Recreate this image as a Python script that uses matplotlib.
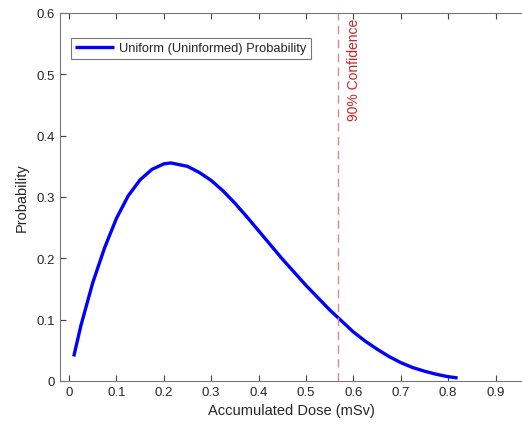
import matplotlib
matplotlib.use("Agg")
import matplotlib.pyplot as plt

dose = [0.01, 0.025, 0.05, 0.075, 0.1, 0.125, 0.15, 0.175, 0.2, 0.215, 0.25, 0.275,
        0.3, 0.325, 0.35, 0.375, 0.4, 0.45, 0.5, 0.55, 0.6, 0.625, 0.65, 0.675,
        0.7, 0.725, 0.75, 0.775, 0.8, 0.82]
prob = [0.040, 0.090, 0.160, 0.217, 0.265, 0.302, 0.328, 0.345, 0.354, 0.3555, 0.350, 0.340,
        0.327, 0.310, 0.290, 0.268, 0.245, 0.199, 0.156, 0.116, 0.080, 0.065, 0.052, 0.040,
        0.030, 0.022, 0.016, 0.011, 0.007, 0.005]
conf_x = 0.567
xticks = [0, 0.1, 0.2, 0.3, 0.4, 0.5, 0.6, 0.7, 0.8, 0.9]
yticks = [0, 0.1, 0.2, 0.3, 0.4, 0.5, 0.6]

plt.rcParams['font.family'] = ['Liberation Sans', 'DejaVu Sans']
fig = plt.figure(figsize=(5.22, 4.35), dpi=100)
ax = fig.add_axes([60/522, 1 - 382/435, 1 - 60/522 + 0.001, (382 - 14)/435])

ax.plot(dose, prob, color='#0000ff', lw=2.4, label='Uniform (Uninformed) Probability',
        solid_capstyle='butt', solid_joinstyle='round')
ax.axvline(conf_x, color='#e08888', lw=1.0, ls=(0, (6, 4)))
ax.text(0.601, 0.593, '90% Confidence', rotation=90, ha='center', va='top',
        color='#d42020', fontsize=10)

ax.set_xlim(-0.019, 0.957)
ax.set_ylim(0, 0.6)
ax.set_xticks(xticks)
ax.set_xticklabels([f'{t:g}' for t in xticks])
ax.set_yticks(yticks)
ax.set_yticklabels([f'{t:g}' for t in yticks])
ax.tick_params(direction='in', length=4, color='#444444', labelsize=9.5,
               labelcolor='#262626', top=True, right=False)
for s in ['left', 'bottom', 'top']:
    ax.spines[s].set_color('#777777')
    ax.spines[s].set_linewidth(0.8)
ax.spines['right'].set_visible(False)

ax.set_xlabel('Accumulated Dose (mSv)', fontsize=10.5, color='#262626', labelpad=4)
ax.set_ylabel('Probability', fontsize=10.5, color='#262626', labelpad=6)

leg = ax.legend(loc='upper left', bbox_to_anchor=(0.0095, 0.95), fontsize=9.25,
                frameon=True, fancybox=False, handlelength=3.0, borderpad=0.35,
                handletextpad=0.4)
leg.get_frame().set_edgecolor('#555555')
leg.get_frame().set_linewidth(0.8)
for t in leg.get_texts():
    t.set_color('#262626')

fig.savefig('out.png', dpi=100)
